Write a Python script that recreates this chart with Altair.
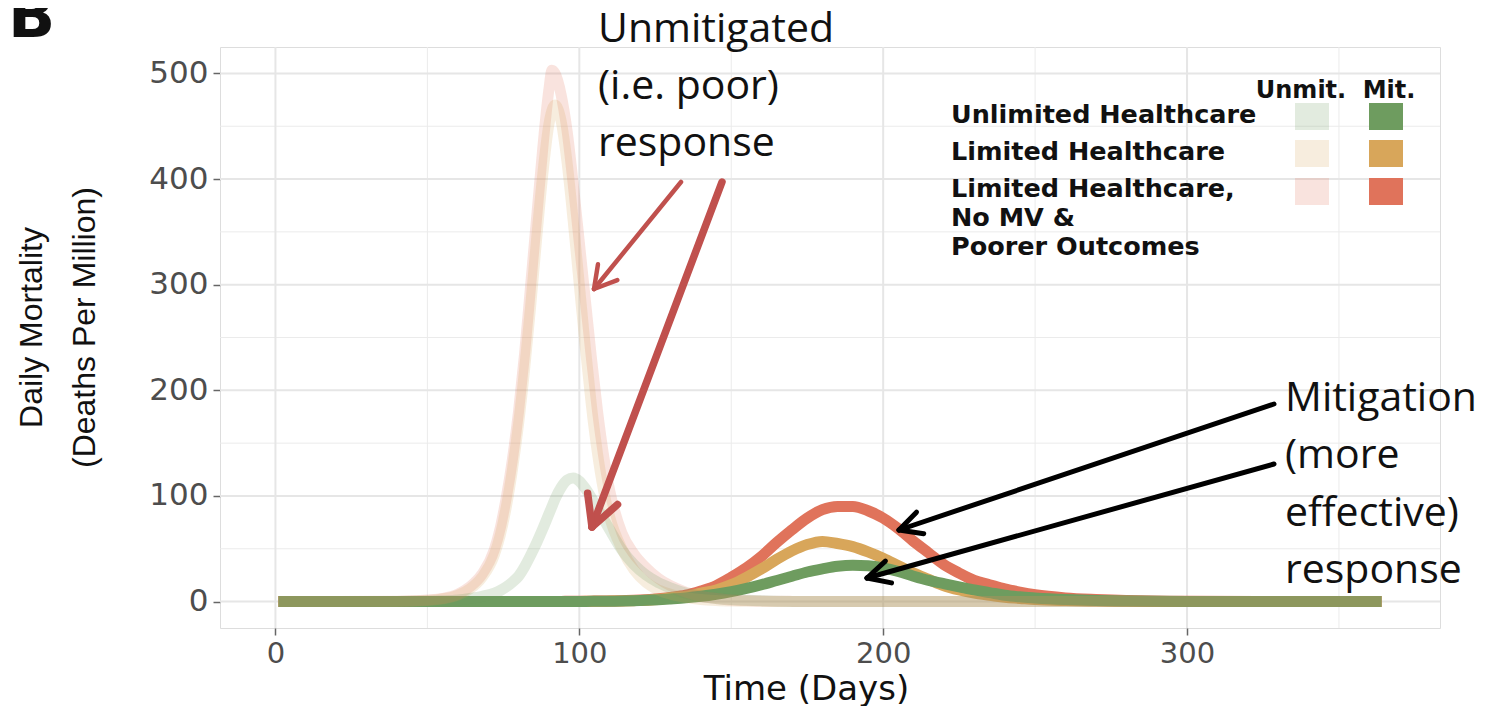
import math
import altair as alt
import pandas as pd

# ---------------- data ----------------
days = [1, 20, 40, 50, 55, 60, 64, 68, 72, 74,
        76, 78, 80, 82, 84, 86, 88, 90, 91, 92,
        94, 96, 98, 100, 102, 104, 106, 108, 110, 114,
        118, 122, 126, 130, 135, 140, 145, 150, 155, 160,
        165, 170, 175, 180, 185, 190, 195, 200, 205, 210,
        215, 220, 225, 230, 235, 240, 245, 250, 260, 270,
        280, 300, 330, 364]

unmit_unlimited = [0, 0, 0.1, 0.3, 0.7, 1.5, 3, 5, 8, 10.5,
                   14, 18.5, 24, 33, 44, 56, 69, 83, 90, 97,
                   108, 115, 117, 114, 107, 98, 88, 78, 68, 49,
                   35, 25, 18, 13, 8, 5, 3, 2, 1.2, 0.7,
                   0.4, 0.2, 0.1, 0, 0, 0, 0, 0, 0, 0,
                   0, 0, 0, 0, 0, 0, 0, 0, 0, 0,
                   0, 0, 0, 0]
unmit_limited = [0, 0, 0.2, 1, 2.5, 6, 12, 23, 44, 63,
                 90, 125, 168, 220, 280, 345, 405, 452, 465, 470,
                 455, 415, 360, 300, 240, 185, 140, 105, 80, 50,
                 30, 18, 11, 7, 4, 2, 1, 0.5, 0.3, 0.2,
                 0.1, 0, 0, 0, 0, 0, 0, 0, 0, 0,
                 0, 0, 0, 0, 0, 0, 0, 0, 0, 0,
                 0, 0, 0, 0]
unmit_poorer = [0, 0, 0.3, 1.5, 3, 7, 14, 26, 49, 70,
                99, 135, 180, 235, 300, 365, 430, 485, 503, 500,
                480, 445, 395, 340, 285, 230, 180, 138, 105, 65,
                45, 32, 22, 15, 9, 5, 3, 1.5, 1, 0.5,
                0.3, 0.2, 0.1, 0, 0, 0, 0, 0, 0, 0,
                0, 0, 0, 0, 0, 0, 0, 0, 0, 0,
                0, 0, 0, 0]
mit_unlimited = [0, 0, 0, 0, 0, 0, 0, 0, 0, 0,
                 0.05, 0.05, 0.05, 0.05, 0.1, 0.1, 0.1, 0.1, 0.1, 0.1,
                 0.1, 0.15, 0.15, 0.2, 0.2, 0.25, 0.3, 0.3, 0.35, 0.5,
                 0.8, 1.2, 1.8, 2.5, 3.5, 5, 7, 9.5, 12.5, 16,
                 20, 24, 28, 31, 33.5, 34.5, 34, 32, 28.5, 24,
                 20, 17, 14, 11, 8.5, 6, 4.5, 3.5, 2, 1,
                 0.5, 0.2, 0.1, 0]
mit_limited = [0, 0, 0, 0, 0, 0, 0, 0, 0, 0,
               0.05, 0.05, 0.05, 0.1, 0.1, 0.1, 0.1, 0.15, 0.15, 0.15,
               0.2, 0.2, 0.2, 0.2, 0.25, 0.3, 0.35, 0.4, 0.45, 0.6,
               0.9, 1.3, 2, 3.5, 5, 8, 11, 16, 23, 31,
               40, 48, 54, 57, 55, 52, 47, 41, 34, 27,
               21, 15, 11, 8, 6, 4, 3, 2, 1, 0.5,
               0.3, 0.1, 0, 0]
mit_poorer = [0, 0, 0, 0, 0, 0, 0, 0, 0, 0,
              0.05, 0.05, 0.1, 0.1, 0.1, 0.1, 0.15, 0.2, 0.2, 0.2,
              0.2, 0.25, 0.3, 0.3, 0.35, 0.4, 0.5, 0.5, 0.6, 0.9,
              1.2, 1.8, 2.7, 4, 6, 10, 15, 23, 32, 43,
              56, 68, 79, 87, 90, 90, 86, 79, 69, 57,
              46, 35, 27, 20, 16, 12, 9, 6.5, 3.5, 2,
              1, 0.3, 0.1, 0]

x_ticks = [0, 100, 200, 300]
x_minor = [50, 150, 250, 350]
y_ticks = [0, 100, 200, 300, 400, 500]
y_minor = [50, 150, 250, 350, 450]

legend_labels = ["Unlimited Healthcare", "Limited Healthcare",
                 "Limited Healthcare,\nNo MV &\nPoorer Outcomes"]

GREEN, ORANGE, RED = "#6E9C5F", "#D8A65A", "#E0735B"
ARROW_RED = "#C0504D"
UNMIT_ALPHA = 0.2

# ---------------- layout ----------------
OX, OY = 220, 47          # page position of the plot's top-left corner
W, H = 1220, 581
one = pd.DataFrame({"k": [0]})


def rel(x, y):
    return x - OX, y - OY


x_scale = alt.Scale(domain=[-18.25, 383.25], nice=False, zero=False)
y_scale = alt.Scale(domain=[-25, 525], nice=False, zero=False)

x_axis = alt.Axis(values=x_ticks, title="Time (Days)", grid=False, domain=False,
                  tickSize=7, tickColor="#666666", tickWidth=1.5,
                  labelFont="DejaVu Sans", labelFontSize=29, labelColor="#4D4D4D",
                  labelPadding=4, labelBaseline="top",
                  titleFont="DejaVu Sans", titleFontSize=34, titleFontWeight="normal",
                  titleColor="#111111", titleBaseline="alphabetic", titleY=71,
                  titleX=586, titleAlign="center")
y_axis = alt.Axis(values=y_ticks, title=["Daily Mortality", "(Deaths Per Million)"],
                  grid=False, domain=False, tickSize=7, tickColor="#666666", tickWidth=1.5,
                  labelFont="DejaVu Sans", labelFontSize=31, labelColor="#4D4D4D",
                  labelPadding=5,
                  titleFont="Liberation Sans", titleFontSize=32, titleFontWeight="normal",
                  titleColor="#111111", titleAngle=270, titleX=-178.5, titleY=280,
                  titleAlign="center", titleBaseline="alphabetic", titleLineHeight=53)


def X(field):
    return alt.X(f"{field}:Q", scale=x_scale, axis=x_axis)


def Y(field):
    return alt.Y(f"{field}:Q", scale=y_scale, axis=y_axis)


layers = []

# grid lines
layers.append(alt.Chart(pd.DataFrame({"v": x_minor})).mark_rule(color="#EBEBEB", strokeWidth=1).encode(x=X("v")))
layers.append(alt.Chart(pd.DataFrame({"v": y_minor})).mark_rule(color="#EBEBEB", strokeWidth=1).encode(y=Y("v")))
layers.append(alt.Chart(pd.DataFrame({"v": x_ticks})).mark_rule(color="#E6E6E6", strokeWidth=2).encode(x=X("v")))
layers.append(alt.Chart(pd.DataFrame({"v": y_ticks})).mark_rule(color="#E6E6E6", strokeWidth=2).encode(y=Y("v")))


def line_layer(vals, color, opacity):
    df = pd.DataFrame({"day": days, "deaths": vals})
    return alt.Chart(df).mark_line(color=color, strokeOpacity=opacity, strokeWidth=11,
                                   interpolate="monotone").encode(x=X("day"), y=Y("deaths"))


# mitigated (opaque) first, unmitigated (translucent) on top
layers.append(line_layer(mit_poorer, RED, 1))
layers.append(line_layer(mit_limited, ORANGE, 1))
layers.append(line_layer(mit_unlimited, GREEN, 1))
layers.append(line_layer(unmit_poorer, RED, UNMIT_ALPHA))
layers.append(line_layer(unmit_limited, ORANGE, UNMIT_ALPHA))
layers.append(line_layer(unmit_unlimited, GREEN, UNMIT_ALPHA))


def text_layer(s, x, y, size, font, weight="normal", align="left", color="#111111", lh=None):
    rx, ry = rel(x, y)
    kw = dict(text=s, font=font, fontSize=size, fontWeight=weight, align=align,
              baseline="alphabetic", color=color)
    if "\n" in s:
        kw["lineBreak"] = "\n"
        kw["lineHeight"] = lh
    return alt.Chart(one).mark_text(**kw).encode(x=alt.value(rx), y=alt.value(ry))


def seg_layer(p1, p2, w, color):
    a, b = rel(*p1)
    c, d = rel(*p2)
    return alt.Chart(one).mark_rule(strokeWidth=w, color=color, strokeCap="round").encode(
        x=alt.value(a), y=alt.value(b), x2=alt.value(c), y2=alt.value(d))


def rect_layer(x1, y1, x2, y2, color, opacity):
    a, b = rel(x1, y1)
    c, d = rel(x2, y2)
    return alt.Chart(one).mark_rect(color=color, opacity=opacity).encode(
        x=alt.value(a), y=alt.value(b), x2=alt.value(c), y2=alt.value(d))


# legend
layers.append(text_layer("Unmit.", 1301, 98, 24, "DejaVu Sans", "bold", "center"))
layers.append(text_layer("Mit.", 1389, 98, 24, "DejaVu Sans", "bold", "center"))
label_base = [123, 160, 197]
row_top = [103, 140, 178]
cols = [GREEN, ORANGE, RED]
for lab, yb, yt, c in zip(legend_labels, label_base, row_top, cols):
    layers.append(text_layer(lab, 951, yb, 25.5, "DejaVu Sans", "bold", lh=29))
    layers.append(rect_layer(1295, yt, 1329, yt + 27, c, UNMIT_ALPHA))
    layers.append(rect_layer(1369, yt, 1403, yt + 27, c, 1))

# annotations
layers.append(text_layer("Unmitigated\n(i.e. poor)\nresponse", 598, 42, 41, "Open Sans", lh=57))
layers.append(text_layer("Mitigation\n(more\neffective)\nresponse", 1285, 411, 41, "Open Sans", lh=57.3))


def arrow(tail, tip, width, color, head_len, ang=28):
    dx, dy = tail[0] - tip[0], tail[1] - tip[1]
    L = math.hypot(dx, dy)
    ux, uy = dx / L, dy / L
    out = [seg_layer(tail, tip, width, color)]
    for s in (1, -1):
        a = math.radians(ang) * s
        wx = ux * math.cos(a) - uy * math.sin(a)
        wy = ux * math.sin(a) + uy * math.cos(a)
        out.append(seg_layer(tip, (tip[0] + wx * head_len, tip[1] + wy * head_len), width, color))
    return out


layers += arrow((681, 182), (594, 289), 4.5, ARROW_RED, 25, 30)
layers += arrow((722, 182), (592, 527), 7.5, ARROW_RED, 34, 28)
layers += arrow((1274, 404), (899, 530), 5, "#000000", 25, 27)
layers += arrow((1274, 464), (867, 578), 5, "#000000", 25, 27)

# panel letter
layers.append(text_layer("B", 8, 37, 62, "DejaVu Sans", "bold"))

chart = alt.layer(*layers).properties(
    width=W, height=H,
    autosize=alt.AutoSizeParams(type="none"),
    padding={"left": 212, "top": 39, "right": 43, "bottom": 78},
).configure_view(stroke="#7A7A7A", strokeWidth=1.6).configure(background="white")

chart.save("out.html", embed_options={"renderer": "svg", "actions": False})
